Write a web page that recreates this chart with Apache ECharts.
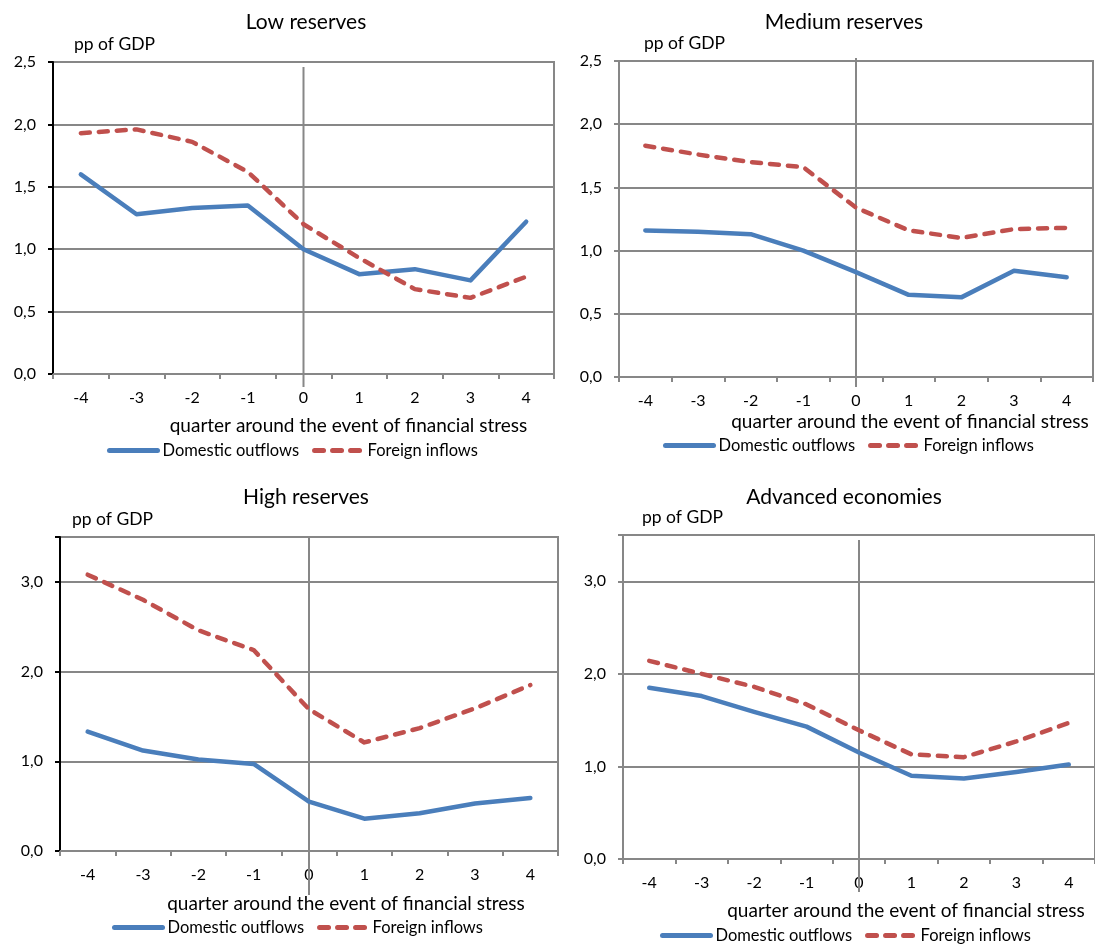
<!DOCTYPE html>
<html>
<head>
<meta charset="utf-8">
<script src="https://cdn.jsdelivr.net/npm/echarts@6/dist/echarts.min.js"></script>
<style>
	html, body { margin: 0; padding: 0; background: #fff; }
	#chart { width: 1095px; height: 945px; }
</style>
</head>
<body>
<div id="chart"></div>
<script>
//Data
let quarters = [-4, -3, -2, -1, 0, 1, 2, 3, 4];
let tickEdges = [-4.5, -3.5, -2.5, -1.5, -0.5, 0.5, 1.5, 2.5, 3.5, 4.5];
let seriesNames = ['Domestic outflows', 'Foreign inflows'];
let panelTitles = ['Low reserves', 'Medium reserves', 'High reserves', 'Advanced economies'];

let lowDomestic = [1.60, 1.28, 1.33, 1.35, 1.00, 0.80, 0.84, 0.75, 1.22];
let lowForeign = [1.93, 1.96, 1.86, 1.62, 1.20, 0.93, 0.68, 0.61, 0.78];
let medDomestic = [1.16, 1.15, 1.13, 1.00, 0.83, 0.65, 0.63, 0.84, 0.79];
let medForeign = [1.83, 1.76, 1.70, 1.66, 1.34, 1.16, 1.10, 1.17, 1.18];
let highDomestic = [1.33, 1.12, 1.02, 0.97, 0.55, 0.36, 0.42, 0.53, 0.59];
let highForeign = [3.08, 2.80, 2.46, 2.24, 1.58, 1.21, 1.37, 1.59, 1.85];
let advDomestic = [1.85, 1.76, 1.59, 1.43, 1.15, 0.90, 0.87, 0.94, 1.02];
let advForeign = [2.14, 2.00, 1.86, 1.67, 1.39, 1.13, 1.10, 1.27, 1.47];

//Colours
let blue = '#4a7ebb';
let red = '#c0504d';
let gridGray = '#878787';
let font = 'Lato';
let dash = [9, 9];

//Layout of each panel (plot box, label offsets)
let panels = [
	{ title: panelTitles[0], dom: lowDomestic, frn: lowForeign, yMax: 2.5, yStep: 0.5,
	  grid: [53, 62, 501, 312], titleX: 306, titleY: 12, axisColor: '#000', namePad: 21,
	  nameShift: 45, nameGap: 42, zeroTop: 5, zeroExt: 13, legend: [107, 442] },
	{ title: panelTitles[1], dom: medDomestic, frn: medForeign, yMax: 2.5, yStep: 0.5,
	  grid: [619, 61, 474, 316], titleX: 844, titleY: 12, axisColor: gridGray, namePad: 25,
	  nameShift: 54, nameGap: 35, zeroTop: -3, zeroExt: 10, legend: [663, 437] },
	{ title: panelTitles[2], dom: highDomestic, frn: highForeign, yMax: 3.5, yStep: 1,
	  grid: [60, 537, 498, 314], titleX: 306, titleY: 487, axisColor: '#000', namePad: 12,
	  nameShift: 37, nameGap: 43, zeroTop: 1, zeroExt: 44, legend: [112, 919] },
	{ title: panelTitles[3], dom: advDomestic, frn: advForeign, yMax: 3.5, yStep: 1,
	  grid: [623, 535, 477, 324], titleX: 844, titleY: 487, axisColor: gridGray, namePad: 19,
	  nameShift: 47, nameGap: 42, zeroTop: 5, zeroExt: 33, legend: [660, 927] }
];

let option = {
	animation: false,
	backgroundColor: '#fff',
	textStyle: { fontFamily: font, color: '#000' },
	title: [],
	legend: [],
	grid: [],
	xAxis: [],
	yAxis: [],
	series: []
};

panels.forEach(function (p, i) {
	let g = p.grid;
	option.title.push({
		text: p.title, left: p.titleX, top: p.titleY, textAlign: 'center', padding: 0,
		textStyle: { fontFamily: font, fontSize: 21, fontWeight: 'normal', color: '#000' }
	});
	option.grid.push({
		left: g[0], top: g[1], width: g[2], height: g[3],
		show: true, borderColor: gridGray, borderWidth: 2, backgroundColor: 'transparent'
	});
	option.legend.push({
		left: p.legend[0], top: p.legend[1], orient: 'horizontal',
		itemWidth: 48, itemHeight: 14, itemGap: 13, padding: 0,
		itemStyle: { opacity: 0 },
		data: [
			{ name: seriesNames[0], lineStyle: { color: blue, width: 5, type: 'solid', cap: 'round' } },
			{ name: seriesNames[1], lineStyle: { color: red, width: 5, type: dash, cap: 'round' } }
		],
		textStyle: { fontFamily: font, fontSize: 16.5, color: '#000' }
	});
	//x axis: labels at the quarters, ticks at the band edges
	option.xAxis.push({
		type: 'value', gridIndex: i, min: -4.5, max: 4.5,
		name: 'quarter around the event of financial stress',
		nameLocation: 'middle', nameGap: p.nameGap,
		nameTextStyle: { fontFamily: font, fontSize: 19, color: '#000', padding: [0, 0, 0, p.nameShift * 2] },
		axisLine: { onZero: false, lineStyle: { color: gridGray, width: 2 } },
		axisTick: { show: true, customValues: tickEdges, length: 5, lineStyle: { color: gridGray, width: 2 } },
		axisLabel: { customValues: quarters, margin: 16, fontSize: 16, color: '#000', fontFamily: font,
			formatter: function (v) { return String(v); } },
		splitLine: { show: false }
	});
	let step = p.yStep;
	option.yAxis.push({
		type: 'value', gridIndex: i, min: 0, max: p.yMax, interval: step,
		name: 'pp of GDP', nameLocation: 'end', nameGap: 9,
		nameTextStyle: { fontFamily: font, fontSize: 17.5, color: '#000', align: 'left', padding: [0, 0, 0, p.namePad] },
		axisLine: { show: true, onZero: false, lineStyle: { color: p.axisColor, width: 2 } },
		axisTick: { show: true, length: 5, lineStyle: { color: p.axisColor, width: 2 } },
		axisLabel: { margin: 17, fontSize: 16, color: '#000', fontFamily: font,
			formatter: function (v) {
				if (Math.abs(v / step - Math.round(v / step)) > 1e-6) return '';
				return v.toFixed(1).replace('.', ',');
			} },
		splitLine: { show: true, lineStyle: { color: gridGray, width: 2 } }
	});
	//Vertical marker at quarter 0, runs a little past the x axis
	option.series.push({
		type: 'custom', xAxisIndex: i, yAxisIndex: i, data: [[0, 0]], clip: false, silent: true, z: 2,
		renderItem: function (params, api) {
			let top = api.coord([api.value(0), p.yMax]);
			let bottom = api.coord([api.value(0), api.value(1)]);
			return {
				type: 'line',
				shape: { x1: top[0], y1: top[1] + p.zeroTop, x2: bottom[0], y2: bottom[1] + p.zeroExt },
				style: { stroke: gridGray, lineWidth: 2 }
			};
		}
	});
	option.series.push({
		name: seriesNames[0], type: 'line', xAxisIndex: i, yAxisIndex: i,
		data: quarters.map(function (q, k) { return [q, p.dom[k]]; }),
		symbol: 'none', z: 3,
		lineStyle: { color: blue, width: 4.5, cap: 'round', join: 'round' },
		itemStyle: { color: blue }
	});
	option.series.push({
		name: seriesNames[1], type: 'line', xAxisIndex: i, yAxisIndex: i,
		data: quarters.map(function (q, k) { return [q, p.frn[k]]; }),
		symbol: 'none', z: 4,
		lineStyle: { color: red, width: 4.5, type: dash, cap: 'round', join: 'round' },
		itemStyle: { color: red }
	});
});

let chart = echarts.init(document.getElementById('chart'), null, { renderer: 'canvas' });
chart.setOption(option);
</script>
</body>
</html>
